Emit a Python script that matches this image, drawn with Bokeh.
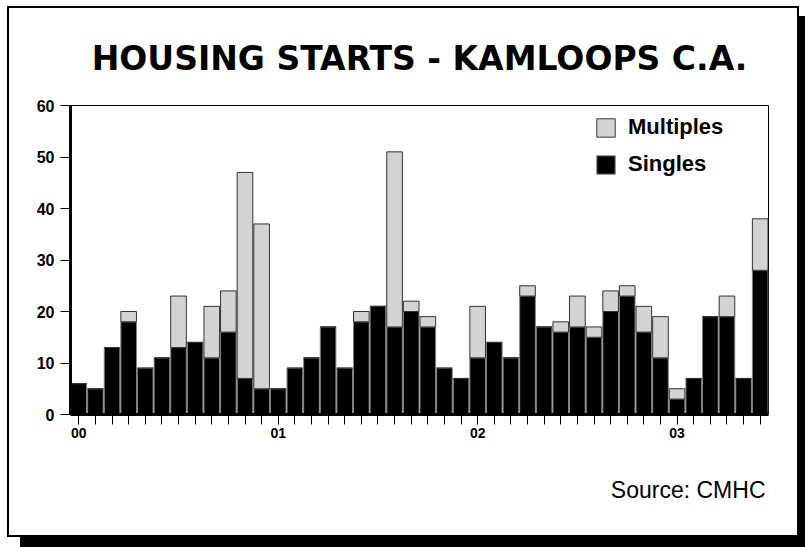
from bokeh.plotting import figure
from bokeh.models import ColumnDataSource, FixedTicker, Legend, LegendItem, Title, Range1d
from bokeh.embed import file_html
from bokeh.resources import INLINE

# Monthly housing starts, Jan 2000 .. Jun 2003
singles = [6, 5, 13, 18, 9, 11, 13, 14, 11, 16, 7, 5,
           5, 9, 11, 17, 9, 18, 21, 17, 20, 17, 9, 7,
           11, 14, 11, 23, 17, 16, 17, 15, 20, 23, 16, 11,
           3, 7, 19, 19, 7, 28]
multiples = [0, 0, 0, 2, 0, 0, 10, 0, 10, 8, 40, 32,
             0, 0, 0, 0, 0, 2, 0, 34, 2, 2, 0, 0,
             10, 0, 0, 2, 0, 2, 6, 2, 4, 2, 5, 8,
             2, 0, 0, 4, 0, 10]
year_labels = {0: "00", 12: "01", 24: "02", 36: "03"}
month_index = list(range(len(singles)))

source = ColumnDataSource(dict(month=month_index, singles=singles, multiples=multiples))

W, H = 792, 531
p = figure(width=W, height=H, output_backend="svg", toolbar_location=None,
           title=None, x_range=Range1d(-0.5, len(singles) - 0.5), y_range=Range1d(0, 60))
p.min_border_left = 61
p.min_border_right = 33
p.min_border_top = 96
p.min_border_bottom = 125
p.background_fill_color = "white"
p.border_fill_color = "white"
p.outline_line_color = "black"
p.outline_line_width = 1
p.xgrid.grid_line_color = None
p.ygrid.grid_line_color = None
p.styles = {"border": "2px solid black", "box-shadow": "13px 10px 0px 0px black",
            "margin-left": "7px", "margin-top": "6px"}

r = p.vbar_stack(["singles", "multiples"], x="month", width=0.94, source=source,
                 fill_color=["black", "#d3d3d3"], line_color=["#808080", "#333333"],
                 line_width=1)

legend = Legend(items=[LegendItem(label="Multiples", renderers=[r[1]]),
                       LegendItem(label="Singles", renderers=[r[0]])],
                location=(524, 237))
legend.background_fill_alpha = 0
legend.border_line_color = None
legend.padding = 0
legend.margin = 0
legend.spacing = 11
legend.glyph_width = 23
legend.glyph_height = 23
legend.label_height = 22
legend.label_standoff = 11
legend.label_text_font = "Liberation Sans"
legend.label_text_font_style = "bold"
legend.label_text_font_size = "22px"
legend.label_text_color = "black"
p.add_layout(legend)

# axes
p.xaxis.ticker = FixedTicker(ticks=month_index)
p.xaxis.major_label_overrides = {i: year_labels.get(i, "") for i in month_index}
p.xaxis.major_tick_out = 10
p.xaxis.major_tick_in = 0
p.xaxis.minor_tick_line_color = None
p.xaxis.axis_line_width = 3
p.xaxis.axis_line_color = "black"
p.xaxis.major_tick_line_color = "black"
p.xaxis.major_tick_line_width = 1
p.xaxis.major_label_text_font = "Liberation Sans"
p.xaxis.major_label_text_font_style = "bold"
p.xaxis.major_label_text_font_size = "14px"
p.xaxis.major_label_text_color = "black"
p.xaxis.major_label_standoff = 3

p.yaxis.ticker = FixedTicker(ticks=[0, 10, 20, 30, 40, 50, 60])
p.yaxis.major_tick_out = 10
p.yaxis.major_tick_in = 0
p.yaxis.minor_tick_line_color = None
p.yaxis.axis_line_width = 3
p.yaxis.axis_line_color = "black"
p.yaxis.major_tick_line_color = "black"
p.yaxis.major_tick_line_width = 1
p.yaxis.major_label_text_font = "Liberation Sans"
p.yaxis.major_label_text_font_style = "bold"
p.yaxis.major_label_text_font_size = "16px"
p.yaxis.major_label_text_color = "black"
p.yaxis.major_label_standoff = 6

title = Title(text="HOUSING STARTS - KAMLOOPS C.A.", align="center",
              text_font="DejaVu Sans", text_font_style="bold",
              text_font_size="33px", text_color="black", standoff=56)
p.add_layout(title, "above")

src = Title(text="Source: CMHC", align="right", offset=3,
            text_font="Liberation Sans", text_font_style="normal",
            text_font_size="23px", text_color="black", standoff=69)
p.add_layout(src, "below")

open("out.html", "w").write(file_html(p, INLINE))
